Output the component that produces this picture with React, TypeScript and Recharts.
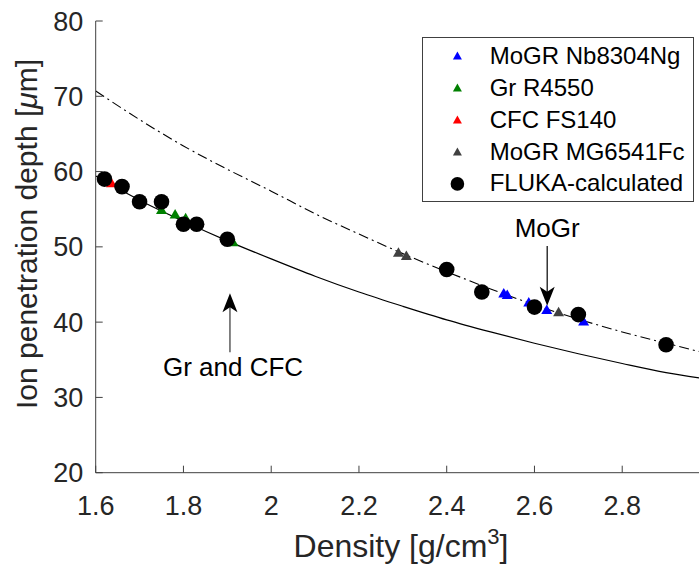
import React from "react";
import {
  ComposedChart,
  Line,
  Scatter,
  XAxis,
  YAxis,
  ReferenceLine,
  ReferenceDot,
  Legend,
} from "recharts";

const FONT = '"Liberation Sans", Arial, Helvetica, sans-serif';
const AXIS = "#404040";
const TEXT = "#262626";

const xTicks = [1.6, 1.8, 2, 2.2, 2.4, 2.6, 2.8];
const yTicks = [20, 30, 40, 50, 60, 70, 80];

// fitted curves
const curveDensity = [1.6, 1.7, 1.8, 1.9, 2.0, 2.1, 2.2, 2.3, 2.4, 2.5, 2.6, 2.7, 2.8, 2.9, 2.975];
const fitGrCfc = [59.4, 56.2, 53.4, 50.8, 48.4, 46.1, 44.0, 42.1, 40.3, 38.7, 37.2, 35.8, 34.5, 33.3, 32.6];
const fitMoGr = [70.7, 66.9, 63.4, 60.3, 57.4, 54.4, 51.7, 49.1, 46.7, 44.4, 42.3, 40.4, 38.7, 37.2, 36.1];

// measured samples
const nbDensity = [2.53, 2.538, 2.587, 2.628, 2.712];
const nbDepth = [43.8, 43.6, 42.6, 41.6, 40.1];
const r4550Density = [1.75, 1.781, 1.805, 1.913];
const r4550Depth = [54.9, 54.3, 53.8, 50.6];
const fs140Density = [1.628, 1.636];
const fs140Depth = [58.7, 58.45];
const mgDensity = [2.29, 2.308, 2.655];
const mgDepth = [49.2, 48.8, 41.3];
const flukaDensity = [1.62, 1.66, 1.7, 1.75, 1.8, 1.83, 1.9, 2.4, 2.48, 2.6, 2.7, 2.9];
const flukaDepth = [59, 58, 56, 56, 53, 53, 51, 47, 44, 42, 41, 37];

const zip = (xs: number[], ys: number[]) => xs.map((x, i) => ({ x, y: ys[i] }));

const BLUE = "#0000ff";
const GREEN = "#008000";
const RED = "#ff0000";
const GREY = "#404040";

const legendItems = [
  { label: "MoGR Nb8304Ng", color: BLUE, kind: "tri" },
  { label: "Gr R4550", color: GREEN, kind: "tri" },
  { label: "CFC FS140", color: RED, kind: "tri" },
  { label: "MoGR MG6541Fc", color: GREY, kind: "tri" },
  { label: "FLUKA-calculated", color: "#000", kind: "dot" },
];

const triangle = (color: string) => (p: any) => (
  <polygon
    points={`${p.cx},${p.cy - 5.5} ${p.cx - 5.5},${p.cy + 4} ${p.cx + 5.5},${p.cy + 4}`}
    fill={color}
  />
);

const dot = (p: any) => <circle cx={p.cx} cy={p.cy} r={7.8} fill="#000" />;

const arrowUp = (p: any) => (
  <polygon
    points={`${p.cx},${p.cy} ${p.cx - 7.5},${p.cy + 19} ${p.cx},${p.cy + 14} ${p.cx + 7.5},${p.cy + 19}`}
    fill="#000"
  />
);

const arrowDown = (p: any) => (
  <polygon
    points={`${p.cx},${p.cy} ${p.cx - 7.5},${p.cy - 19} ${p.cx},${p.cy - 14} ${p.cx + 7.5},${p.cy - 19}`}
    fill="#000"
  />
);

const note = (label: string) => (p: any) => (
  <text x={p.cx} y={p.cy} textAnchor="middle" fontFamily={FONT} fontSize={26} fill="#000">
    {label}
  </text>
);

function XTick(props: any) {
  const { x, y, payload } = props;
  return (
    <g>
      <line x1={x} y1={y} x2={x} y2={y - 7} stroke={AXIS} />
      <text x={x} y={y + 42} textAnchor="middle" fontFamily={FONT} fontSize={27} fill={TEXT}>
        {payload.value}
      </text>
    </g>
  );
}

function TopTick(props: any) {
  const { x, y } = props;
  return <line x1={x} y1={y} x2={x} y2={y + 7} stroke={AXIS} />;
}

function YTick(props: any) {
  const { x, y, payload } = props;
  return (
    <g>
      <line x1={x} y1={y} x2={x + 7} y2={y} stroke={AXIS} />
      <text x={x - 12.5} y={y} dy={9.5} textAnchor="end" fontFamily={FONT} fontSize={27} fill={TEXT}>
        {payload.value}
      </text>
    </g>
  );
}

function XTitle() {
  return (
    <text x={401} y={557} textAnchor="middle" fontFamily={FONT} fontSize={32} fill={TEXT}>
      Density [g/cm
      <tspan dy={-13} fontSize={22}>3</tspan>
      <tspan dy={13}>]</tspan>
    </text>
  );
}

function YTitle() {
  return (
    <text
      x={37}
      y={234}
      transform="rotate(-90, 37, 234)"
      textAnchor="middle"
      fontFamily={FONT}
      fontSize={30}
      fill={TEXT}
    >
      Ion penetration depth [<tspan fontStyle="italic">μ</tspan>m]
    </text>
  );
}

function LegendBox() {
  return (
    <div
      style={{
        width: 272,
        height: 165,
        boxSizing: "border-box",
        border: `1px solid ${AXIS}`,
        background: "#fff",
        paddingTop: 2.4,
        fontFamily: FONT,
        fontSize: 24,
        color: "#000",
      }}
    >
      {legendItems.map((item) => (
        <div key={item.label} style={{ display: "flex", alignItems: "center", height: 31.8 }}>
          <svg width={66.7} height={31.8} style={{ flex: "none" }}>
            {item.kind === "tri" ? (
              <polygon points="34.4,11.5 29.9,19.5 38.9,19.5" fill={item.color} />
            ) : (
              <circle cx={34.4} cy={15.9} r={6.8} fill={item.color} />
            )}
          </svg>
          <span style={{ whiteSpace: "nowrap" }}>{item.label}</span>
        </div>
      ))}
    </div>
  );
}

export default function App() {
  return (
    <div style={{ position: "absolute", left: 0, top: 0, background: "#fff" }}>
      <ComposedChart width={699} height={572} margin={{ top: 21, right: 0, bottom: 0, left: 0 }}>
        <XAxis
          dataKey="x"
          type="number"
          domain={[1.6, 2.975]}
          allowDataOverflow
          ticks={xTicks}
          interval={0}
          height={99.3}
          tickSize={0}
          tickMargin={0}
          tickLine={false}
          axisLine={{ stroke: AXIS }}
          tick={<XTick />}
          label={<XTitle />}
        />
        <XAxis
          xAxisId="top"
          orientation="top"
          type="number"
          domain={[1.6, 2.975]}
          allowDataOverflow
          ticks={xTicks}
          interval={0}
          height={0}
          tickSize={0}
          tickMargin={0}
          tickLine={false}
          axisLine={{ stroke: AXIS }}
          tick={<TopTick />}
        />
        <YAxis
          dataKey="y"
          type="number"
          domain={[20, 80]}
          allowDataOverflow
          ticks={yTicks}
          interval={0}
          width={95.7}
          tickSize={0}
          tickMargin={0}
          tickLine={false}
          axisLine={{ stroke: AXIS }}
          tick={<YTick />}
          label={<YTitle />}
        />
        <Legend
          content={<LegendBox />}
          layout="vertical"
          align="center"
          verticalAlign="middle"
          wrapperStyle={{ position: "absolute", left: 422, top: 37, width: 272, height: 165 }}
        />
        <Line
          data={zip(curveDensity, fitGrCfc)}
          dataKey="y"
          type="monotone"
          stroke="#000"
          strokeWidth={1.2}
          dot={false}
          activeDot={false}
          isAnimationActive={false}
          legendType="none"
        />
        <Line
          data={zip(curveDensity, fitMoGr)}
          dataKey="y"
          type="monotone"
          stroke="#000"
          strokeWidth={1.1}
          strokeDasharray="10 4 2 4"
          dot={false}
          activeDot={false}
          isAnimationActive={false}
          legendType="none"
        />
        <Scatter data={zip(fs140Density, fs140Depth)} dataKey="y" shape={triangle(RED)} isAnimationActive={false} />
        <Scatter data={zip(r4550Density, r4550Depth)} dataKey="y" shape={triangle(GREEN)} isAnimationActive={false} />
        <Scatter data={zip(mgDensity, mgDepth)} dataKey="y" shape={triangle(GREY)} isAnimationActive={false} />
        <Scatter data={zip(nbDensity, nbDepth)} dataKey="y" shape={triangle(BLUE)} isAnimationActive={false} />
        <Scatter data={zip(flukaDensity, flukaDepth)} dataKey="y" shape={dot} isAnimationActive={false} />
        <ReferenceLine
          segment={[
            { x: 1.906, y: 36.0 },
            { x: 1.906, y: 42.5 },
          ]}
          stroke="#333"
          strokeWidth={1.2}
        />
        <ReferenceDot x={1.906} y={43.85} shape={arrowUp} />
        <ReferenceDot x={1.913} y={32.8} shape={note("Gr and CFC")} />
        <ReferenceLine
          segment={[
            { x: 2.629, y: 50.1 },
            { x: 2.629, y: 43.5 },
          ]}
          stroke="#000"
          strokeWidth={1.2}
        />
        <ReferenceDot x={2.629} y={42.17} shape={arrowDown} />
        <ReferenceDot x={2.629} y={51.3} shape={note("MoGr")} />
      </ComposedChart>
    </div>
  );
}
